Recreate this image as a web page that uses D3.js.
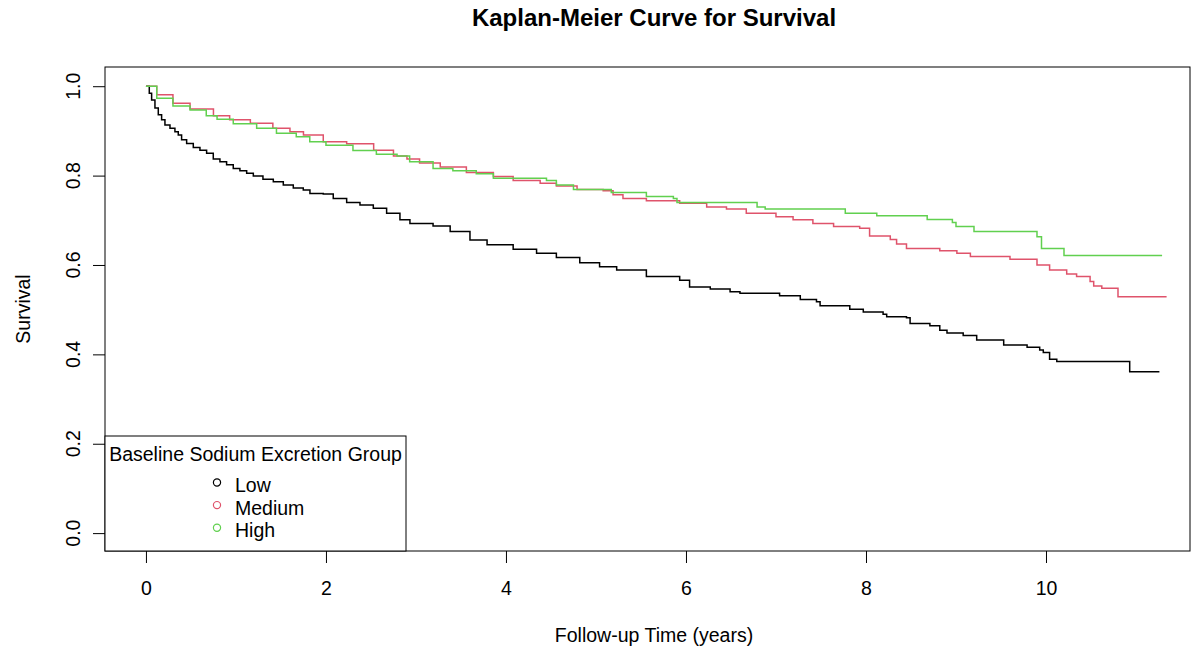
<!DOCTYPE html>
<html>
<head>
<meta charset="utf-8">
<script src="https://cdn.jsdelivr.net/npm/d3@7.9.0/dist/d3.min.js"></script>
<style>
  body { margin: 0; background: #fff; }
  text { font-family: Arial, 'Liberation Sans', sans-serif; fill: #000; }
</style>
</head>
<body>
<div id="chart"></div>
<script>
// Kaplan-Meier step points: [years, survival]
const lowCurve = [
  [0, 1.0], [0.037, 0.984], [0.063, 0.969], [0.10, 0.951], [0.137, 0.936], [0.174, 0.925],
  [0.211, 0.913], [0.267, 0.906], [0.322, 0.898], [0.359, 0.891], [0.396, 0.880], [0.452, 0.872],
  [0.526, 0.863], [0.60, 0.857], [0.674, 0.850], [0.748, 0.837], [0.822, 0.831], [0.896, 0.824],
  [0.97, 0.816], [1.044, 0.811], [1.119, 0.805], [1.193, 0.799], [1.30, 0.792], [1.415, 0.786],
  [1.526, 0.779], [1.637, 0.772], [1.748, 0.768], [1.822, 0.760], [1.97, 0.759], [2.081, 0.749],
  [2.23, 0.740], [2.378, 0.734], [2.526, 0.727], [2.674, 0.716], [2.822, 0.701], [2.933, 0.693],
  [3.19, 0.687], [3.38, 0.675], [3.60, 0.656], [3.79, 0.645], [4.08, 0.635],
  [4.34, 0.626], [4.56, 0.617], [4.82, 0.605], [5.04, 0.596], [5.23, 0.589], [5.56, 0.574],
  [5.93, 0.566], [6.04, 0.551], [6.27, 0.546], [6.49, 0.540], [6.60, 0.537], [7.04, 0.531],
  [7.27, 0.523], [7.45, 0.518], [7.49, 0.509], [7.82, 0.501], [7.97, 0.495], [8.19, 0.490],
  [8.23, 0.484], [8.45, 0.482], [8.49, 0.469], [8.71, 0.464], [8.82, 0.454], [8.90, 0.448],
  [9.08, 0.442], [9.23, 0.432], [9.53, 0.421], [9.79, 0.416], [9.93, 0.410], [9.97, 0.404],
  [10.04, 0.389], [10.12, 0.384], [10.93, 0.361], [11.26, 0.361]
];
const mediumCurve = [
  [0, 1.0], [0.12, 0.981], [0.30, 0.962], [0.49, 0.949], [0.75, 0.934], [0.93, 0.925],
  [1.16, 0.917], [1.41, 0.906], [1.60, 0.898], [1.75, 0.891], [1.97, 0.876], [2.23, 0.871],
  [2.53, 0.857], [2.75, 0.844], [2.90, 0.837], [3.04, 0.828], [3.27, 0.819], [3.56, 0.807],
  [3.86, 0.798], [4.08, 0.789], [4.38, 0.783], [4.56, 0.777], [4.79, 0.769], [5.08, 0.766],
  [5.19, 0.757], [5.30, 0.749], [5.56, 0.744], [5.93, 0.738], [6.23, 0.730], [6.45, 0.725],
  [6.67, 0.716], [7.00, 0.708], [7.19, 0.701], [7.41, 0.693], [7.64, 0.686], [7.93, 0.682],
  [8.04, 0.665], [8.27, 0.657], [8.34, 0.647], [8.45, 0.637], [8.82, 0.632], [9.01, 0.626],
  [9.16, 0.619], [9.60, 0.613], [9.90, 0.600], [10.04, 0.589], [10.23, 0.580], [10.34, 0.574],
  [10.49, 0.563], [10.53, 0.553], [10.62, 0.548], [10.80, 0.529], [11.34, 0.529]
];
const highCurve = [
  [0, 1.0], [0.12, 0.973], [0.30, 0.956], [0.49, 0.947], [0.67, 0.934], [0.79, 0.926],
  [0.97, 0.916], [1.23, 0.906], [1.45, 0.895], [1.67, 0.887], [1.82, 0.876], [2.00, 0.868],
  [2.30, 0.856], [2.56, 0.848], [2.79, 0.844], [2.93, 0.831], [3.19, 0.816], [3.41, 0.811],
  [3.67, 0.804], [3.86, 0.794], [4.45, 0.789], [4.56, 0.779], [4.75, 0.769], [5.17, 0.762],
  [5.56, 0.753], [5.86, 0.749], [5.90, 0.740], [6.79, 0.730], [6.88, 0.725], [7.77, 0.716],
  [8.12, 0.710], [8.68, 0.702], [8.96, 0.695], [9.00, 0.686], [9.20, 0.675], [9.90, 0.663],
  [9.95, 0.637], [10.20, 0.621], [11.29, 0.621]
];

const groupNames = ['Low', 'Medium', 'High'];
const groupColors = ['#000000', '#DF536B', '#61D04F'];
const xTicks = [0, 2, 4, 6, 8, 10];
const yTicks = [0.0, 0.2, 0.4, 0.6, 0.8, 1.0];

const width = 1194;
const height = 653;
const box = { left: 105, right: 1190, top: 67, bottom: 551 };
const titleX = 654;

const svg = d3.select('#chart')
  .append('svg')
  .attr('width', width)
  .attr('height', height);

const xScale = d3.scaleLinear()
  .domain([-0.455, 11.6])
  .range([box.left, box.right]);

const yScale = d3.scaleLinear()
  .domain([-0.04, 1.043])
  .range([box.bottom, box.top]);

// curves
const line = d3.line()
  .x(d => xScale(d[0]))
  .y(d => yScale(d[1]))
  .curve(d3.curveStepAfter);

svg.append('g')
  .selectAll('path')
  .data([lowCurve, mediumCurve, highCurve])
  .join('path')
  .attr('d', d => line(d))
  .attr('fill', 'none')
  .attr('stroke', (d, i) => groupColors[i])
  .attr('stroke-width', 1.5);

// X axis
const xAxis = svg.append('g')
  .attr('transform', `translate(0, ${box.bottom})`)
  .call(d3.axisBottom(xScale).tickValues(xTicks).tickSize(12).tickPadding(18).tickFormat(d3.format('d')));
xAxis.select('.domain').remove();
xAxis.selectAll('line').attr('stroke', '#000');
xAxis.selectAll('text')
  .attr('font-size', 19.5)
  .attr('font-family', 'Arial, Liberation Sans, sans-serif');

// Y axis (labels rotated as in base R)
const yAxis = svg.append('g')
  .attr('transform', `translate(${box.left}, 0)`)
  .call(d3.axisLeft(yScale).tickValues(yTicks).tickSize(12).tickFormat(''));
yAxis.select('.domain').remove();
yAxis.selectAll('line').attr('stroke', '#000');

svg.append('g')
  .selectAll('text')
  .data(yTicks)
  .join('text')
  .attr('transform', d => `translate(80, ${yScale(d)}) rotate(-90)`)
  .attr('text-anchor', 'middle')
  .attr('font-size', 19.5)
  .text(d => d3.format('.1f')(d));

// plot box
svg.append('rect')
  .attr('x', box.left)
  .attr('y', box.top)
  .attr('width', box.right - box.left)
  .attr('height', box.bottom - box.top)
  .attr('fill', 'none')
  .attr('stroke', '#000')
  .attr('stroke-width', 1);

// titles
svg.append('text')
  .attr('x', titleX)
  .attr('y', 26)
  .attr('text-anchor', 'middle')
  .attr('font-size', 24)
  .attr('font-weight', 'bold')
  .text('Kaplan-Meier Curve for Survival');

svg.append('text')
  .attr('x', titleX)
  .attr('y', 642)
  .attr('text-anchor', 'middle')
  .attr('font-size', 19.5)
  .text('Follow-up Time (years)');

svg.append('text')
  .attr('transform', `translate(30, ${(box.top + box.bottom) / 2}) rotate(-90)`)
  .attr('text-anchor', 'middle')
  .attr('font-size', 19.5)
  .text('Survival');

// legend
const legend = svg.append('g');
legend.append('rect')
  .attr('x', box.left)
  .attr('y', 436)
  .attr('width', 301)
  .attr('height', box.bottom - 436)
  .attr('fill', '#fff')
  .attr('stroke', '#000')
  .attr('stroke-width', 1);

legend.append('text')
  .attr('x', box.left + 150.5)
  .attr('y', 461)
  .attr('text-anchor', 'middle')
  .attr('font-size', 19.5)
  .text('Baseline Sodium Excretion Group');

const rows = legend.selectAll('g.row')
  .data(groupNames)
  .join('g')
  .attr('class', 'row')
  .attr('transform', (d, i) => `translate(0, ${492 + i * 22.6})`);

rows.append('circle')
  .attr('cx', 217)
  .attr('cy', -9.5)
  .attr('r', 3.6)
  .attr('fill', 'none')
  .attr('stroke', (d, i) => groupColors[i])
  .attr('stroke-width', 1.2);

rows.append('text')
  .attr('x', 235)
  .attr('y', 0)
  .attr('font-size', 19.5)
  .text(d => d);
</script>
</body>
</html>
